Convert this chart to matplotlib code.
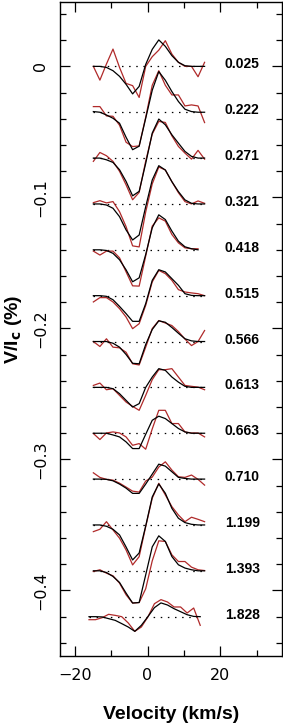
#Stokes V profiles (observed vs model) stacked by rotational phase
import matplotlib.pyplot as plt
from matplotlib.ticker import MultipleLocator

# velocity grid (km/s); the last phase was sampled on a shifted grid
vel = [-14.9, -13.1, -11.3, -9.5, -7.7, -5.9, -4.1, -2.3, -0.5,
       1.3, 3.1, 4.9, 6.7, 8.5, 10.3, 12.1, 13.9, 15.7]
vel_1828 = [-16.1, -14.3, -12.5, -10.7, -8.9, -7.1, -5.3, -3.5, -1.7,
            0.1, 1.9, 3.7, 5.5, 7.3, 9.1, 10.9, 12.7, 14.5]

phases = ["0.025", "0.222", "0.271", "0.321", "0.418", "0.515", "0.566",
          "0.613", "0.663", "0.710", "1.199", "1.393", "1.828"]
offsets = [0.0, -0.035, -0.070, -0.105, -0.140, -0.175, -0.210,
           -0.245, -0.280, -0.315, -0.350, -0.385, -0.420]

# profiles in units of 1e-3 %  (obs = red, fit = black)
obs_025 = [0, -10.5, 1.8, 13.2, -0.8, -13.0, -14.7, -23.7, 0, 7.4, 12.4, 19.6, 9.4, 3.1, 0, 0, -7.9, 3.1]
fit_025 = [0, 0, -0.8, -3.3, -7.6, -13.7, -21.0, -15.3, 1.5, 13.0, 20.2, 15.3, 8.2, 3.1, 0.5, 0, 0, 0]
obs_222 = [4.3, 4.3, -2.8, -3.1, -9.9, -22.9, -26.2, -25.7, -3.8, 20.6, 31.7, 20.6, 13.2, 13.2, 4.8, 5.6, 4.8, -7.9]
fit_222 = [0.5, 0, -2.1, -4.6, -8.4, -19.1, -28.6, -25.9, -4.6, 16.8, 31.0, 24.4, 15.8, 8.2, 2.3, 0.5, 0, 0]
obs_271 = [-2.5, 4.3, 1.8, -2.5, -10.1, -20.4, -31.8, -26.2, -2.3, 18.3, 28.0, 27.2, 17.0, 8.9, 3.8, -0.8, 5.9, -0.8]
fit_271 = [0, 0, -1.3, -3.3, -8.9, -17.8, -28.8, -25.4, -4.0, 19.1, 29.8, 25.4, 17.8, 11.4, 5.1, 1.3, 0, 0]
obs_321 = [1.0, 2.5, 0.8, 1.8, -5.9, -17.3, -32.0, -32.8, -6.1, 15.3, 28.2, 25.9, 17.0, 8.6, 1.8, 0, 2.3, 0.5]
fit_321 = [0, 0, -0.8, -3.3, -9.7, -19.8, -27.5, -23.7, -2.1, 18.3, 29.2, 25.9, 17.0, 9.4, 3.1, 0.5, 0, 0]
obs_418 = [-1.0, -4.0, -1.0, -1.0, -6.1, -16.8, -27.5, -27.7, -4.8, 18.1, 24.4, 21.9, 11.7, 5.3, 1.5, 0.8, 0.8]
fit_418 = [0, 0, -0.5, -2.7, -7.6, -15.3, -24.4, -21.4, -3.6, 16.8, 26.7, 23.1, 14.3, 6.6, 2.3, 0.8, 0]
obs_515 = [-4.8, -1.5, -1.5, -4.8, -9.9, -16.3, -25.2, -21.4, -7.4, 10.5, 19.3, 16.8, 11.7, 4.6, 2.8, 2.1, 1.5, 0]
fit_515 = [0, 0, -0.5, -3.1, -8.2, -13.7, -19.6, -19.6, -6.1, 11.7, 19.8, 18.1, 13.0, 7.9, 1.5, 0.2, 0, 0]
obs_566 = [0, -3.8, 2.1, -4.3, -4.8, -8.2, -17.0, -17.9, -4.3, 9.9, 16.0, 14.1, 12.2, 7.6, 1.9, -3.1, 0, 8.4]
fit_566 = [0, 0, 0, -1.3, -4.3, -9.9, -16.6, -17.0, -2.3, 9.2, 15.8, 14.7, 10.7, 6.3, 2.1, 0.5, 0, 0]
obs_613 = [1.5, 3.3, -1.8, -1.0, -6.1, -11.2, -14.5, -17.5, -6.1, 5.9, 13.5, 13.5, 14.3, 7.9, 1.5, 0.8, 0.2, -1.8]
fit_613 = [0, 0, 0, -1.0, -4.8, -9.9, -15.0, -12.4, 0, 7.9, 14.3, 13.0, 7.9, 4.0, 0.8, 0, 0, 0]
obs_663 = [-0.2, -4.8, 0.2, 1.0, 0.2, -2.8, -9.2, -7.9, -12.2, 3.3, 17.5, 17.5, 7.4, 7.4, 1.0, 0.2, 0.2, -2.8]
fit_663 = [0, 0, 0, -1.3, -2.8, -6.6, -11.7, -11.7, -0.8, 9.9, 13.0, 11.2, 7.4, 3.6, 1.0, 0, 0, 0]
obs_710 = [4.8, 1.3, -0.2, -0.8, -3.1, -6.1, -9.2, -9.9, -1.5, 1.5, 9.2, 13.2, 6.9, 1.8, 1.3, 3.1, -0.2, -4.6]
fit_710 = [0, 0, -0.2, -1.3, -3.8, -6.9, -10.9, -10.9, -3.8, 3.8, 11.4, 9.9, 5.6, 1.3, 0.5, 0, 0, 0]
obs_1199 = [-5.1, -3.3, 2.5, -3.8, -10.1, -19.1, -30.5, -24.2, -1.3, 20.4, 31.8, 22.9, 14.0, 7.6, 2.5, 5.9, 4.3, 2.5]
fit_1199 = [0, 0, -1.0, -3.3, -7.6, -16.8, -26.7, -21.4, -0.8, 21.4, 31.3, 24.2, 12.7, 5.1, 1.8, 0.5, 0, 0]
obs_1393 = [-0.5, 0.8, -1.8, -3.8, -9.4, -18.3, -24.6, -24.2, -13.7, 7.6, 22.9, 22.4, 12.2, 7.1, 7.1, 2.8, 0.8, 0.2]
fit_1393 = [0, 0, -1.3, -4.3, -8.9, -17.0, -24.6, -24.2, -3.1, 18.3, 26.7, 22.4, 10.9, 4.6, 2.1, 0.8, 0, 0]
obs_1828 = [-2.3, -2.3, -0.8, 1.8, 1.0, 0, -4.8, -11.2, -7.9, -0.2, 9.9, 13.0, 11.2, 7.4, 7.4, 2.8, 6.6, -6.6]
fit_1828 = [0, 0, -0.2, -1.5, -2.8, -5.3, -7.9, -11.2, -6.6, 0, 6.9, 10.5, 8.9, 6.1, 3.8, 1.5, 0.2, 0]

obs_all = [obs_025, obs_222, obs_271, obs_321, obs_418, obs_515, obs_566,
           obs_613, obs_663, obs_710, obs_1199, obs_1393, obs_1828]
fit_all = [fit_025, fit_222, fit_271, fit_321, fit_418, fit_515, fit_566,
           fit_613, fit_663, fit_710, fit_1199, fit_1393, fit_1828]

fig = plt.figure(figsize=(2.83, 7.25), dpi=100)
ax = fig.add_axes([0.213, 0.0952, 0.7835, 0.9018])

for i in range(len(phases)):
    v = vel_1828 if phases[i] == "1.828" else vel[:len(obs_all[i])]
    off = offsets[i]
    ax.plot([v[0], v[-1]], [off, off], color="black", lw=0.9,
            linestyle=(0, (1.2, 4.5)))
    ax.plot(v, [off + y * 1e-3 for y in obs_all[i]], color="#b02a2a", lw=0.9)
    ax.plot(v, [off + y * 1e-3 for y in fit_all[i]], color="black", lw=0.9)
    ax.text(21.3, off + 0.0015, phases[i], ha="left", va="center",
            fontsize=10, fontweight="bold", family="Liberation Sans")

ax.set_xlim(-24, 37)
ax.set_ylim(-0.45, 0.049)
ax.xaxis.set_major_locator(MultipleLocator(20))
ax.xaxis.set_minor_locator(MultipleLocator(10))
ax.yaxis.set_major_locator(MultipleLocator(0.1))
ax.yaxis.set_minor_locator(MultipleLocator(0.02))
ax.tick_params(which="both", direction="in", top=True, right=True, width=0.9)
ax.tick_params(which="major", length=7.5, pad=9, labelsize=11.5, labelcolor="black")
ax.tick_params(which="minor", length=4.3)
ax.set_yticks([0, -0.1, -0.2, -0.3, -0.4])
ax.set_yticklabels(["0", "\u22120.1", "\u22120.2", "\u22120.3", "\u22120.4"],
                   rotation=90, va="center", family="DejaVu Sans")
ax.set_xticks([-20, 0, 20])
ax.set_xticklabels(["\u221220", "0", "20"], family="DejaVu Sans")
for s in ax.spines.values():
    s.set_linewidth(1.0)

ax.set_xlabel("Velocity (km/s)", fontsize=14, fontweight="bold",
              family="Liberation Sans", labelpad=16)
ax.set_ylabel("V/I$_\\mathbf{c}$ (%)", fontsize=14, fontweight="bold",
              family="Liberation Sans", labelpad=6)

fig.savefig("out.png", dpi=100)
